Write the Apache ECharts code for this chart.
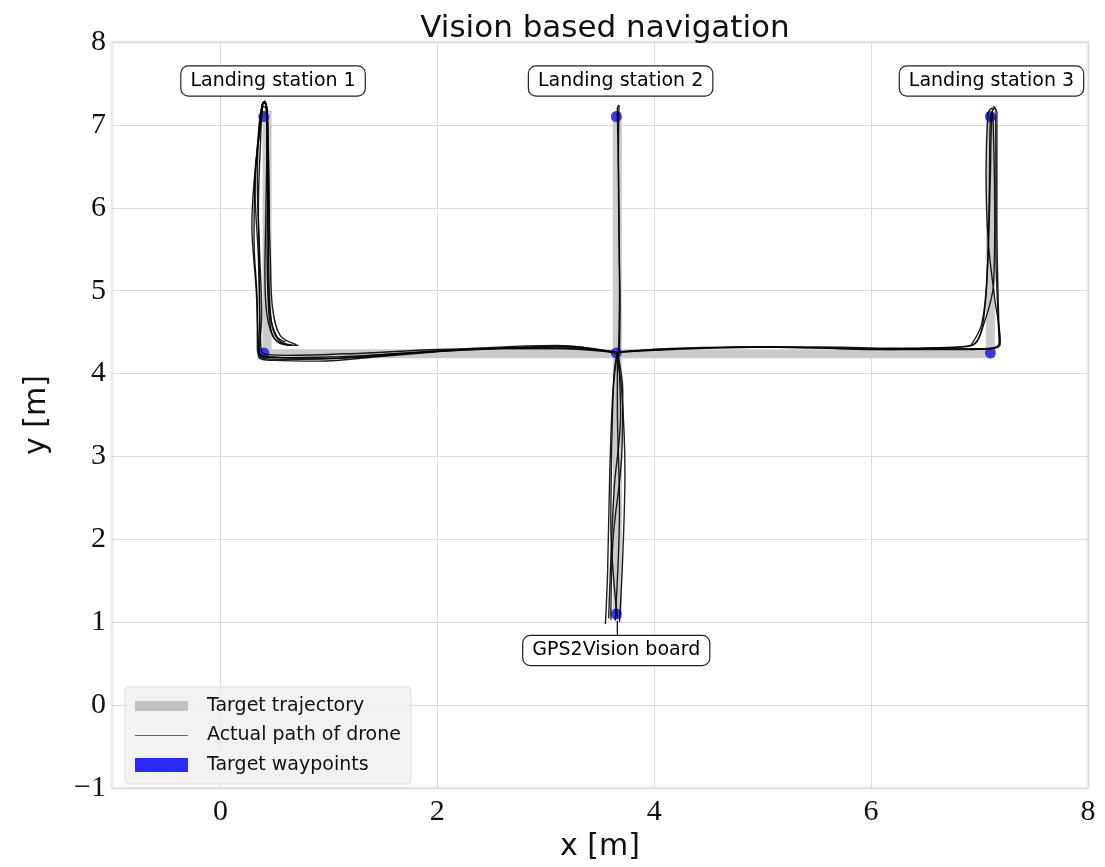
<!DOCTYPE html>
<html>
<head>
<meta charset="utf-8">
<script src="https://cdn.jsdelivr.net/npm/echarts@6/dist/echarts.min.js"></script>
<style>html,body{margin:0;padding:0;background:#fff}#c{width:1105px;height:867px}</style>
</head>
<body>
<div id="c"></div>
<script>
// ---------- data ----------
const xTicks = [0, 2, 4, 6, 8];
const yTicks = [-1, 0, 1, 2, 3, 4, 5, 6, 7, 8];

const waypoints = [[0.40,7.10],[0.40,4.25],[3.65,7.10],[3.65,4.25],[3.65,1.10],[7.10,7.10],[7.10,4.25]];

const targetSegments = [
  [[0.40,4.24],[7.10,4.24]],
  [[0.43,4.24],[0.43,7.12]],
  [[3.66,1.10],[3.66,7.10]],
  [[7.10,4.24],[7.10,7.10]]
];

const pathsStation1 = [
  [[3.65,4.25],[3.2,4.33],[2.6,4.31],[2.0,4.27],[1.2,4.19],[0.6,4.17],[0.38,4.19],[0.34,4.3],[0.34,4.8],[0.31,5.6],[0.32,6.4],[0.37,7.0],[0.39,7.27],[0.42,7.25],[0.43,6.6],[0.44,5.8],[0.45,5.0],[0.48,4.55],[0.56,4.38],[0.72,4.34]],
  [[3.65,4.26],[3.1,4.32],[2.5,4.30],[1.8,4.25],[1.0,4.20],[0.55,4.19],[0.37,4.22],[0.35,4.4],[0.33,5.0],[0.29,5.8],[0.33,6.6],[0.38,7.1],[0.40,7.28],[0.43,7.2],[0.44,6.4],[0.43,5.6],[0.44,4.9],[0.47,4.5],[0.54,4.37],[0.66,4.34]],
  [[3.65,4.25],[3.0,4.31],[2.3,4.29],[1.5,4.21],[0.9,4.15],[0.5,4.16],[0.35,4.21],[0.36,4.6],[0.35,5.4],[0.32,6.2],[0.35,6.9],[0.38,7.22],[0.41,7.29],[0.43,7.0],[0.42,6.0],[0.41,5.2],[0.43,4.7],[0.50,4.42],[0.62,4.35]],
  [[3.65,4.26],[3.2,4.30],[2.6,4.30],[2.0,4.29],[1.2,4.24],[0.6,4.22],[0.40,4.24],[0.37,4.4],[0.36,5.2],[0.35,6.0],[0.37,6.8],[0.39,7.25],[0.42,7.26],[0.44,6.8],[0.45,6.0],[0.44,5.2],[0.46,4.7],[0.52,4.45],[0.60,4.38]],
  [[3.64,4.25],[3.1,4.34],[2.4,4.31],[1.6,4.24],[0.9,4.18],[0.5,4.20],[0.36,4.25],[0.38,4.7],[0.36,5.5],[0.34,6.3],[0.36,7.0],[0.40,7.22],[0.43,7.18],[0.44,6.3],[0.46,5.4],[0.48,4.8],[0.55,4.46],[0.70,4.35]]
];

const pathsStation2 = [
  [[3.67,4.26],[3.68,5.0],[3.675,6.0],[3.665,6.8],[3.66,7.2],[3.675,7.24]],
  [[3.675,7.24],[3.67,6.6],[3.675,5.6],[3.685,4.8],[3.68,4.27]]
];

const pathsStation3 = [
  [[3.66,4.25],[4.0,4.29],[4.6,4.31],[5.1,4.32],[5.6,4.31],[6.0,4.30],[6.5,4.31],[6.9,4.33],[7.0,4.45],[7.05,4.8],[7.08,5.5],[7.10,6.4],[7.11,7.0],[7.13,7.22],[7.16,7.15],[7.16,6.6],[7.16,5.8],[7.17,5.0],[7.18,4.55],[7.19,4.35],[7.10,4.30],[6.8,4.29],[6.3,4.29],[5.8,4.30],[5.0,4.32],[4.3,4.30],[3.9,4.28],[3.67,4.25]],
  [[3.66,4.26],[4.1,4.30],[4.8,4.32],[5.5,4.31],[6.1,4.29],[6.6,4.31],[6.93,4.34],[7.04,4.6],[7.13,5.1],[7.14,5.9],[7.13,6.8],[7.11,7.2],[7.08,7.15],[7.06,6.4],[7.08,5.6],[7.14,4.9],[7.19,4.4],[7.15,4.31],[6.9,4.29]],
  [[6.92,4.34],[7.02,4.6],[7.07,5.2],[7.09,6.2],[7.10,7.1],[7.14,7.21],[7.15,6.5],[7.15,5.5],[7.17,4.7],[7.18,4.36],[7.0,4.30],[6.5,4.30],[6.0,4.31],[5.5,4.32],[5.0,4.32],[4.5,4.31],[4.0,4.28],[3.67,4.26]]
];

const pathsBoard = [
  [[3.55,0.98],[3.57,1.6],[3.59,2.8],[3.62,3.8],[3.66,4.25]],
  [[3.60,1.03],[3.62,2.0],[3.70,3.0],[3.71,3.8],[3.66,4.25]],
  [[3.68,1.00],[3.71,1.8],[3.73,2.8],[3.70,3.8],[3.65,4.25]],
  [[3.66,1.05],[3.60,2.2],[3.61,3.2],[3.63,4.0],[3.66,4.26]],
  [[3.64,1.02],[3.68,2.4],[3.66,3.6],[3.66,4.25]],
  [[3.58,1.05],[3.63,2.6],[3.69,3.5],[3.67,4.25]]
];

const annotations = [
  {text: 'Landing station 1', pos: [0.485, 7.53]},
  {text: 'Landing station 2', pos: [3.69, 7.53]},
  {text: 'Landing station 3', pos: [7.11, 7.53]},
  {text: 'GPS2Vision board', pos: [3.65, 0.66]}
];
const boardArrow = [[3.66,0.85],[3.66,1.02]];

const titleText = 'Vision based navigation';
const xName = 'x [m]';
const yName = 'y [m]';
const legendNames = ['Target trajectory', 'Actual path of drone', 'Target waypoints'];

// ---------- chart ----------
const chart = echarts.init(document.getElementById('c'), null, {renderer: 'canvas'});
const series = [];

targetSegments.forEach(seg => series.push({
  name: legendNames[0], type: 'line', data: seg, symbol: 'none', showSymbol: false,
  lineStyle: {color: '#cbcbcb', width: 9, cap: 'square'}, itemStyle: {color: '#c4c4c4'},
  z: 1, silent: true
}));

series.push({
  name: legendNames[2], type: 'scatter', data: waypoints, symbolSize: 11,
  itemStyle: {color: 'rgba(0,0,235,0.9)'}, z: 2, silent: true
});

[].concat(pathsStation1, pathsStation2, pathsStation3, pathsBoard).forEach(p => series.push({
  name: legendNames[1], type: 'line', data: p, symbol: 'none', showSymbol: false, smooth: 0.35,
  lineStyle: {color: 'rgba(0,0,0,0.88)', width: 1.4}, itemStyle: {color: '#777'},
  z: 3, silent: true
}));

series.push({
  name: 'arrow', type: 'line', data: boardArrow, symbol: 'none', showSymbol: false,
  lineStyle: {color: '#111', width: 1.3}, z: 4, silent: true
});

series.push({
  name: 'annotations', type: 'scatter', symbol: 'circle', symbolSize: 1, z: 10, silent: true,
  itemStyle: {color: '#ffffff', opacity: 1},
  data: annotations.map(a => ({value: a.pos, label: {formatter: a.text}})),
  label: {
    show: true, position: 'inside', fontFamily: 'DejaVu Sans', fontSize: 19, color: '#000',
    opacity: 1, textBorderWidth: 0,
    backgroundColor: '#fff', borderColor: '#222', borderWidth: 1.2, borderRadius: 7,
    padding: [5, 9]
  }
});

const option = {
  animation: false,
  backgroundColor: '#fff',
  title: {
    text: titleText, left: 600, top: 8, textAlign: 'center',
    textStyle: {fontFamily: 'DejaVu Sans', fontWeight: 'normal', fontSize: 31, color: '#111'}
  },
  grid: {
    left: 112, right: 17, top: 42, bottom: 75, show: true,
    borderColor: '#ebebeb', borderWidth: 3, backgroundColor: 'transparent'
  },
  legend: {
    data: [
      {name: legendNames[0], icon: 'path://M0 0 H100 V19 H0 Z', itemStyle: {color: '#c2c2c2', opacity: 1}},
      {name: legendNames[1], icon: 'path://M0 0 H100 V2 H0 Z', itemStyle: {color: '#666', opacity: 1}},
      {name: legendNames[2], icon: 'rect', itemStyle: {color: '#2a2aff', opacity: 1}}
    ],
    orient: 'vertical', left: 125, top: 687, itemWidth: 53, itemHeight: 14, itemGap: 9.5,
    padding: [9, 10, 9, 10], backgroundColor: 'rgba(240,240,240,0.85)', borderColor: '#dddddd',
    borderWidth: 1, borderRadius: 4, selectedMode: false,
    textStyle: {fontFamily: 'DejaVu Sans', fontSize: 19, color: '#111', padding: [0, 0, 0, 14], lineHeight: 20}
  },
  xAxis: {
    type: 'value', min: -1, max: 8, interval: 1,
    name: xName, nameLocation: 'middle', nameGap: 36,
    nameTextStyle: {fontFamily: 'DejaVu Sans', fontSize: 30, color: '#111'},
    axisLine: {show: false}, axisTick: {show: false},
    axisLabel: {
      fontFamily: 'Liberation Serif', fontSize: 30, color: '#111', margin: 9,
      formatter: v => xTicks.indexOf(v) >= 0 ? String(v) : ''
    },
    splitLine: {show: true, lineStyle: {color: ['rgba(0,0,0,0)', '#dcdcdc'], width: 1}}
  },
  yAxis: {
    type: 'value', min: -1, max: 8, interval: 1,
    name: yName, nameLocation: 'middle', nameGap: 60, nameRotate: 90,
    nameTextStyle: {fontFamily: 'DejaVu Sans', fontSize: 30, color: '#111'},
    axisLine: {show: false}, axisTick: {show: false},
    axisLabel: {
      fontFamily: 'Liberation Serif', fontSize: 30, color: '#111', margin: 6,
      formatter: v => yTicks.indexOf(v) >= 0 ? String(v).replace('-', '\u2212') : ''
    },
    splitLine: {show: true, lineStyle: {color: '#dcdcdc', width: 1}}
  },
  series: series
};
chart.setOption(option);
</script>
</body>
</html>
